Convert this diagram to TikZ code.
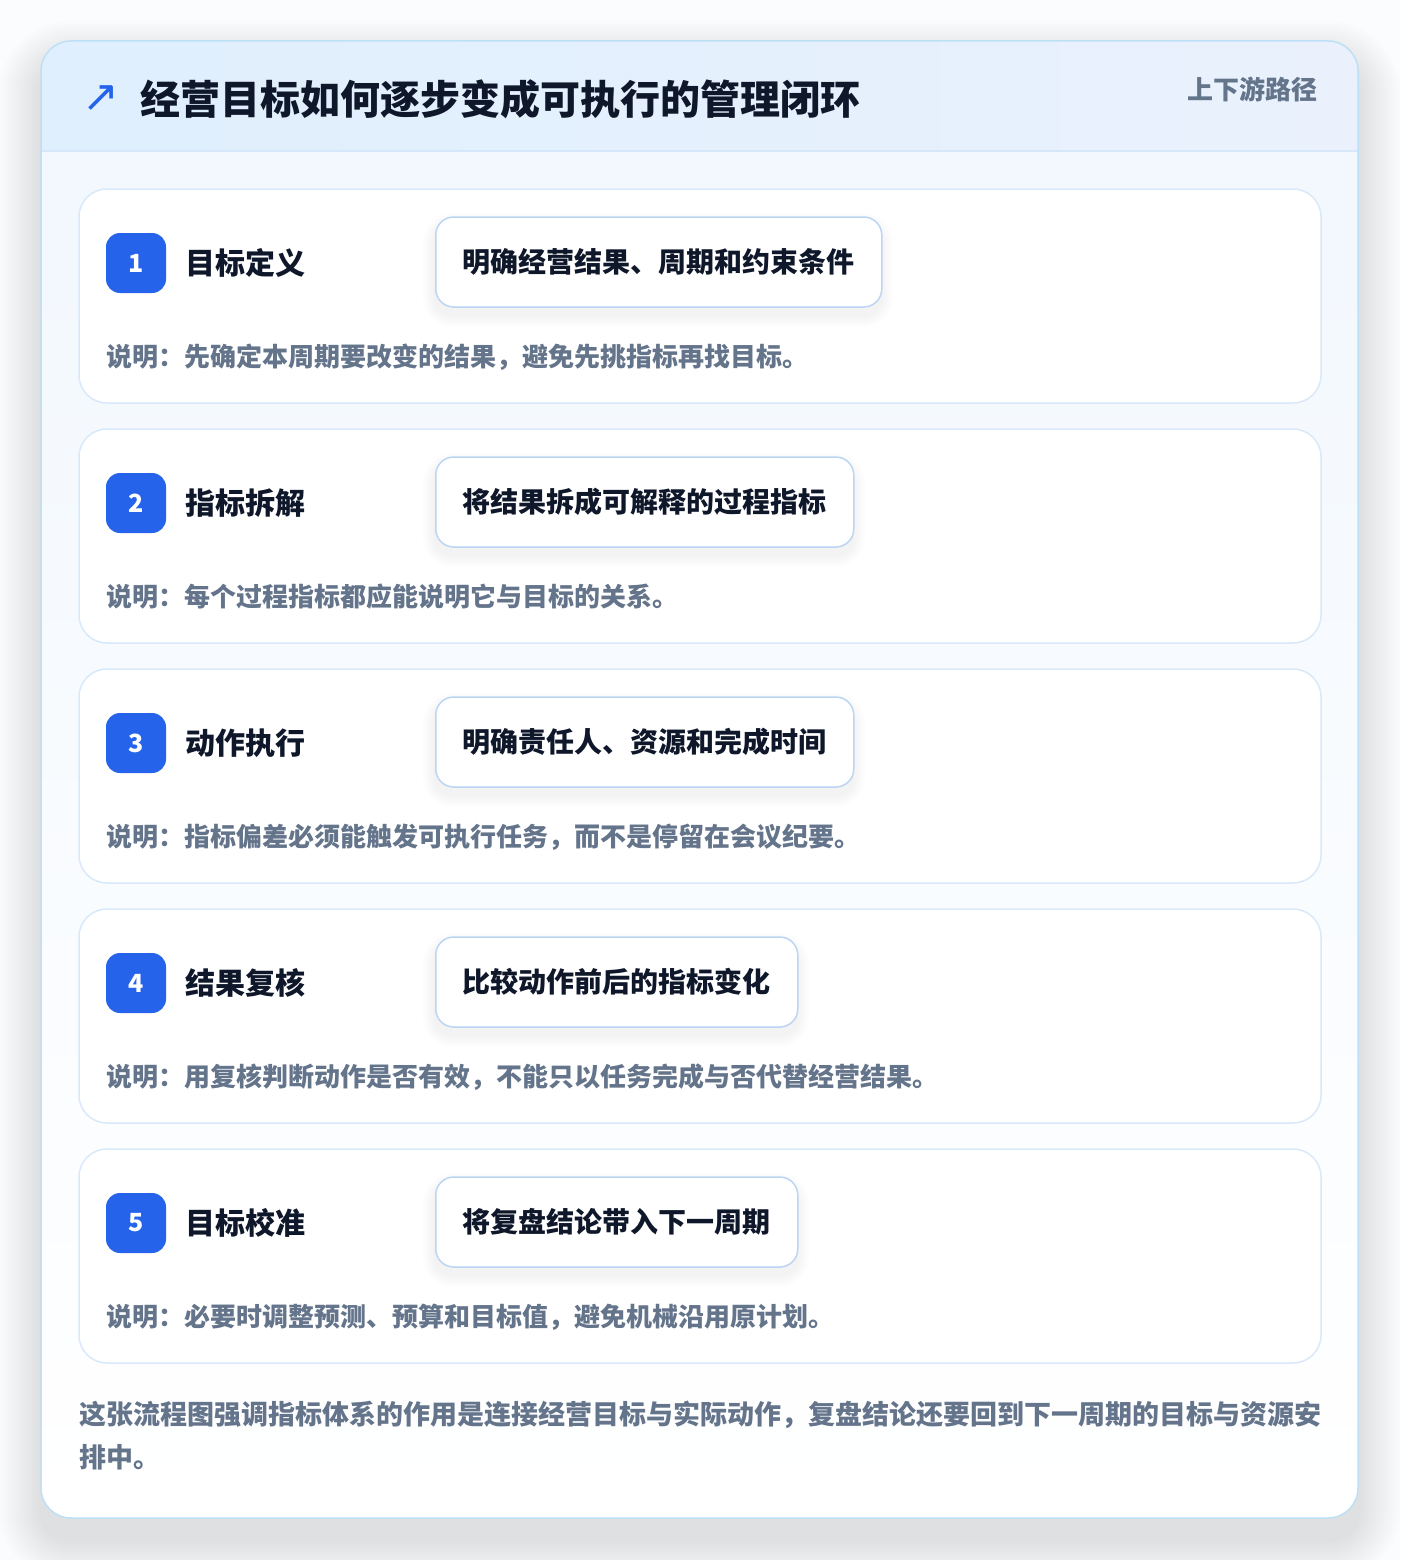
\documentclass[tikz,border=0pt]{standalone}
\usepackage{fontspec}
\setmainfont{Noto Sans CJK SC}
\newfontfamily\symfont{DejaVu Sans}
\definecolor{pagebg}{HTML}{FBFCFD}
\definecolor{outerborder}{HTML}{BDE0F6}
\definecolor{headleft}{HTML}{DFEFFD}
\definecolor{headright}{HTML}{EAF1FD}
\definecolor{headline}{HTML}{D6E7FA}
\definecolor{bodytop}{HTML}{F1F7FE}
\definecolor{cardborder}{HTML}{D9E9FA}
\definecolor{pillborder}{HTML}{BCD5F3}
\definecolor{accent}{HTML}{2563EB}
\definecolor{ink}{HTML}{0F172A}
\definecolor{muted}{HTML}{64748B}
\definecolor{shadowc}{HTML}{1E293B}
\tikzset{
  outercard/.style={draw=outerborder, line width=1.5pt, rounded corners=30pt},
  stepcard/.style={draw=cardborder, line width=1.5pt, rounded corners=28pt, fill=white},
  badge/.style={fill=accent, rounded corners=14pt, minimum width=60pt, minimum height=60pt, inner sep=0pt, text=white, font=\fontsize{25}{29}\selectfont\bfseries},
  steptitle/.style={anchor=west, inner sep=0pt, text=ink, font=\fontsize{30}{36}\selectfont\bfseries},
  pill/.style={anchor=west, draw=pillborder, line width=1.5pt, fill=white, rounded corners=18pt, minimum height=90pt, inner xsep=27pt, inner ysep=0pt, text=ink, font=\fontsize{28}{34}\selectfont\bfseries},
  desc/.style={anchor=west, inner sep=0pt, text=muted, font=\fontsize{26}{31}\selectfont\bfseries},
  foot/.style={anchor=west, inner sep=0pt, text=muted, font=\fontsize{27}{32}\selectfont\bfseries},
}
\begin{document}
\begin{tikzpicture}[x=1pt, y=-1pt]
\useasboundingbox (0,0) rectangle (1400,1560);
\fill[pagebg] (0,0) rectangle (1400,1560);
% soft shadow of the outer card
\foreach \k in {1,...,14}{
  \pgfmathsetmacro{\e}{3*\k}
  \pgfmathsetmacro{\r}{30+3*\k}
  \fill[shadowc, opacity=0.007, rounded corners=\r pt] (41-\e,41-\e+22) rectangle (1358+\e,1518+\e+22);
}
\fill[white, rounded corners=30pt] (41,41) rectangle (1358,1518);
\shade[rounded corners=30pt, top color=bodytop, bottom color=white] (41,41) rectangle (1358,1518);
\begin{scope}
  \clip[rounded corners=30pt] (41,41) rectangle (1358,1518);
  \shade[left color=headleft, right color=headright] (41,41) rectangle (1358,151);
  \draw[headline, line width=1.5pt] (41,151) -- (1358,151);
\end{scope}
\draw[outercard] (41,41) rectangle (1358,1518);
% header
\node[text=accent, font=\symfont\fontsize{44}{50}\selectfont, inner sep=0pt] (icon) at (101,99) {↗};
\node[anchor=west, inner sep=0pt, text=ink, font=\fontsize{40}{48}\selectfont\bfseries] (title) at (140,99) {经营目标如何逐步变成可执行的管理闭环};
\node[anchor=east, inner sep=0pt, text=muted, font=\fontsize{26}{31}\selectfont\bfseries] (tag) at (1318,89) {上下游路径};
% steps
\foreach \i/\t/\p/\w/\d in {
  1/目标定义/明确经营结果、周期和约束条件/446/说明：先确定本周期要改变的结果，避免先挑指标再找目标。,
  2/指标拆解/将结果拆成可解释的过程指标/418/说明：每个过程指标都应能说明它与目标的关系。,
  3/动作执行/明确责任人、资源和完成时间/418/说明：指标偏差必须能触发可执行任务，而不是停留在会议纪要。,
  4/结果复核/比较动作前后的指标变化/362/说明：用复核判断动作是否有效，不能只以任务完成与否代替经营结果。,
  5/目标校准/将复盘结论带入下一周期/362/说明：必要时调整预测、预算和目标值，避免机械沿用原计划。}{
  \pgfmathsetmacro{\ytop}{189+240*(\i-1)}
  \draw[stepcard] (79,\ytop) rectangle (1321,\ytop+214);
  \foreach \k in {1,...,6}{
    \pgfmathsetmacro{\e}{2*\k}
    \pgfmathsetmacro{\r}{18+2*\k}
    \fill[shadowc, opacity=0.008, rounded corners=\r pt] (435-\e,\ytop+28-\e+8) rectangle (435+\w+\e,\ytop+118+\e+8);
  }
  \node[badge] (b\i) at (136,\ytop+74) {\i};
  \node[steptitle] (t\i) at (185,\ytop+74) {\t};
  \node[pill] (p\i) at (435,\ytop+73) {\p};
  \node[desc] (d\i) at (106,\ytop+168) {\d};
}
% footer
\node[foot] (foot1) at (79,1415) {这张流程图强调指标体系的作用是连接经营目标与实际动作，复盘结论还要回到下一周期的目标与资源安};
\node[foot] (foot2) at (79,1457) {排中。};
\end{tikzpicture}
\end{document}
